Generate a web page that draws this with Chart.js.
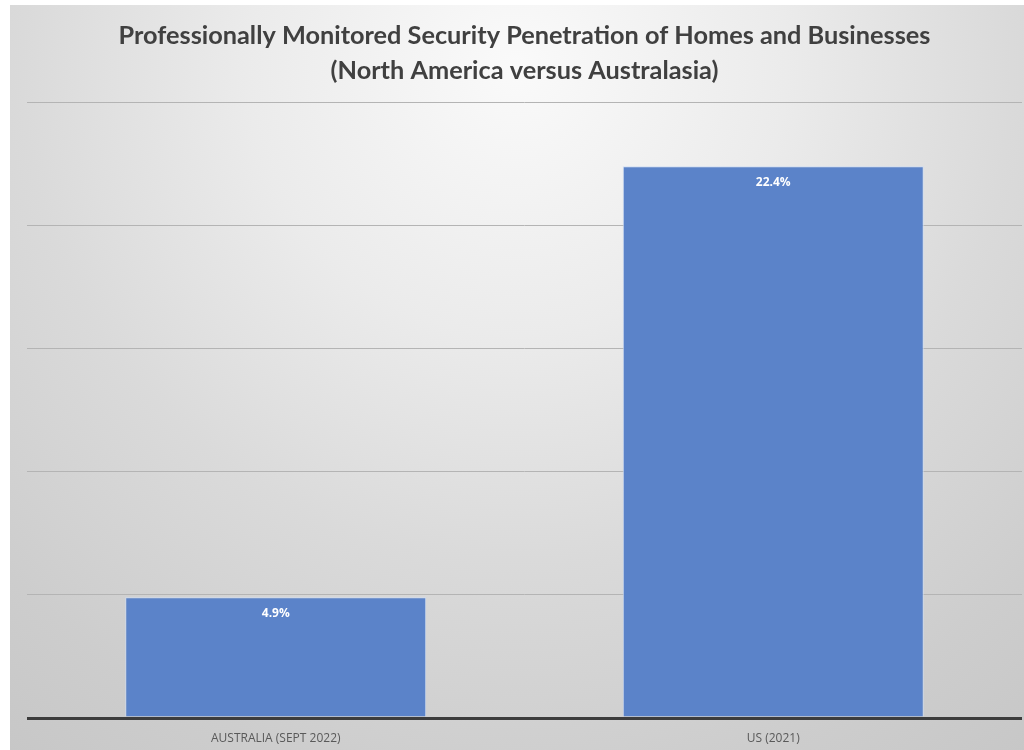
<!DOCTYPE html>
<html>
<head>
<meta charset="utf-8">
<script src="https://cdn.jsdelivr.net/npm/chart.js@4.4.0/dist/chart.umd.min.js"></script>
<style>
  html, body { margin: 0; padding: 0; background: #ffffff; }
  #wrap { position: absolute; left: 10px; top: 5px; width: 1014px; height: 745px; }
</style>
</head>
<body>
<div id="wrap"><canvas id="c"></canvas></div>
<script>
const categories = ["AUSTRALIA (SEPT 2022)", "US (2021)"];
const penetration = [4.9, 22.4];
const valueLabels = ["4.9%", "22.4%"];
const yTicks = [0, 5, 10, 15, 20, 25];

const bgPlugin = {
  id: 'bg',
  beforeDraw(chart) {
    const ctx = chart.ctx;
    const w = chart.width, h = chart.height;
    ctx.save();
    const g = ctx.createRadialGradient(w / 2, 60, 0, w / 2, 60, 900);
    g.addColorStop(0, '#fafafa');
    g.addColorStop(0.3, '#ebebeb');
    g.addColorStop(0.55, '#dadada');
    g.addColorStop(0.8, '#cdcdcd');
    g.addColorStop(1, '#c5c5c5');
    ctx.fillStyle = g;
    ctx.fillRect(0, 0, w, h);
    ctx.restore();
  }
};

const labelPlugin = {
  id: 'vlabels',
  afterDatasetsDraw(chart) {
    const ctx = chart.ctx;
    const meta = chart.getDatasetMeta(0);
    ctx.save();
    ctx.fillStyle = '#ffffff';
    ctx.font = 'bold 12px "Open Sans", sans-serif';
    ctx.textAlign = 'center';
    ctx.textBaseline = 'middle';
    meta.data.forEach((bar, i) => {
      ctx.fillText(valueLabels[i], bar.x, bar.y + 16);
    });
    ctx.restore();
  }
};

new Chart(document.getElementById('c'), {
  type: 'bar',
  data: {
    labels: categories,
    datasets: [{
      data: penetration,
      backgroundColor: '#5b83c9',
      borderColor: 'rgba(205,220,245,0.9)',
      borderWidth: 1,
      barPercentage: 0.605,
      categoryPercentage: 1.0
    }]
  },
  options: {
    responsive: true,
    maintainAspectRatio: false,
    animation: false,
    layout: { padding: { left: 17, right: 2, top: 0, bottom: 0 } },
    plugins: {
      legend: { display: false },
      tooltip: { enabled: false },
      title: {
        display: true,
        text: ["Professionally Monitored Security Penetration of Homes and Businesses", "(North America versus Australasia)"],
        color: '#404040',
        font: { family: 'Lato, "Open Sans", sans-serif', size: 25.3, weight: 'bold', lineHeight: 1.385 },
        padding: { top: 13, bottom: 14 }
      }
    },
    scales: {
      x: {
        grid: { display: false },
        border: { display: false },
        afterFit(scale) { scale.height = 32; },
        ticks: {
          color: '#595959',
          font: { family: '"Open Sans", sans-serif', size: 12 },
          padding: 5
        }
      },
      y: {
        min: 0,
        max: 25,
        afterBuildTicks(scale) { scale.ticks = yTicks.map(v => ({ value: v })); },
        ticks: { display: false },
        border: { display: false },
        grid: {
          color: ctx => ctx.tick && ctx.tick.value === 0 ? '#3c3c3c' : '#b4b4b4',
          lineWidth: ctx => ctx.tick && ctx.tick.value === 0 ? 3 : 1,
          drawTicks: false
        }
      }
    }
  },
  plugins: [bgPlugin, labelPlugin]
});
</script>
</body>
</html>
